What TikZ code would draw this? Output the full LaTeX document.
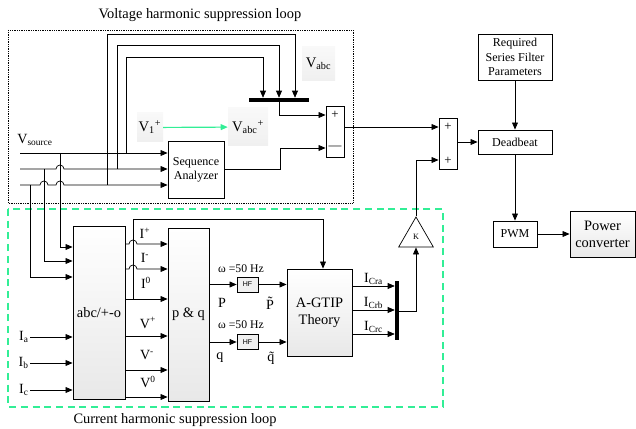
\documentclass[tikz,border=0pt]{standalone}
\usepackage{fontspec}
\setmainfont{Liberation Serif}
\newfontfamily\hffont{Liberation Sans}
\usepackage{tikz}
\usetikzlibrary{arrows.meta,positioning,calc,shapes.geometric}
\definecolor{loopgreen}{RGB}{50,238,150}
\def\pxu{0.03cm}
\tikzset{
  arr/.style={line width=0.6pt,-{Triangle[length=6pt,width=5pt]}},
  blk/.style={draw,line width=0.7pt,inner sep=0pt,align=center,font=\fontsize{10.3}{12.2}\selectfont},
  shblk/.style={blk,top color=white,bottom color=gray!18,font=\fontsize{12.3}{14.6}\selectfont},
  hfblk/.style={draw,line width=0.6pt,fill=gray!12,inner sep=0pt,minimum width=21*\pxu,minimum height=15*\pxu,font=\hffont\fontsize{6}{7}\selectfont},
  sumblk/.style={blk,minimum width=18*\pxu,minimum height=51*\pxu},
  tag/.style={top color=gray!5,bottom color=gray!12,inner sep=0pt,font=\fontsize{12.5}{14}\selectfont},
  lbl/.style={inner sep=1pt,font=\fontsize{12}{14}\selectfont},
  small/.style={inner sep=1pt,font=\fontsize{10}{12}\selectfont},
  sgn/.style={inner sep=0pt,font=\fontsize{11}{12}\selectfont},
  bus/.style={fill=black,inner sep=0pt},
}
\begin{document}
\begin{tikzpicture}[x=0.03cm,y=-0.03cm]
\useasboundingbox (0,0) rectangle (636,429);
% loop frames and titles
\draw[densely dotted,line width=0.5pt] (8,30) rectangle (353,203);
\draw[loopgreen,line width=1.1pt,dash pattern=on 6pt off 4pt] (8,209) rectangle (443,407);
\node[lbl,font=\fontsize{12.3}{14}\selectfont] (vtitle) at (200,15) {Voltage harmonic suppression loop};
\node[lbl,font=\fontsize{12.3}{14}\selectfont] (ctitle) at (175,420) {Current harmonic suppression loop};
% blocks
\node[blk,minimum width=56*\pxu,minimum height=57*\pxu] (seq) at (196,169.5) {Sequence\\Analyzer};
\node[shblk,minimum width=52*\pxu,minimum height=173*\pxu] (abc) at (99,312.5) {abc/+-o};
\node[shblk,minimum width=41*\pxu,minimum height=173*\pxu] (pq) at (188.5,314.5) {p \& q};
\node[hfblk] (hfp) at (247.5,284.5) {HF};
\node[hfblk] (hfq) at (247.5,342) {HF};
\node[shblk,minimum width=65*\pxu,minimum height=87*\pxu] (gtip) at (319.5,312.5) {A-GTIP\\Theory};
\node[bus,minimum width=4*\pxu,minimum height=59*\pxu] (bar) at (397,310.5) {};
\node[draw,regular polygon,regular polygon sides=3,minimum size=40*\pxu,inner sep=0pt,line width=0.6pt,font=\fontsize{7}{8}\selectfont] (kgain) at (416,237) {K};
\node[sumblk] (sa) at (335,131.5) {};
\node[sumblk] (sb) at (448,143.5) {};
\node[sgn] (sap) at (335,115) {+};
\node[sgn] (sam) at (335,148) {---};
\node[sgn] (sbp) at (448,127) {+};
\node[sgn] (sbq) at (448,161) {+};
\node[blk,minimum width=74*\pxu,minimum height=24*\pxu] (dead) at (515,142) {Deadbeat};
\node[blk,minimum width=74*\pxu,minimum height=46*\pxu] (req) at (515,57) {Required\\Series Filter\\Parameters};
\node[blk,minimum width=44*\pxu,minimum height=26*\pxu] (pwm) at (515,234) {PWM};
\node[shblk,minimum width=65*\pxu,minimum height=46*\pxu] (conv) at (602.5,234) {Power\\converter};
\node[bus,minimum width=60*\pxu,minimum height=4*\pxu] (bus) at (279,100) {};
% shaded tags
\node[tag,minimum width=33*\pxu,minimum height=34*\pxu] (vabc) at (318.5,64) {V\textsubscript{abc}};
\node[tag,minimum width=26*\pxu,minimum height=29*\pxu] (vone) at (150,127.5) {V\textsubscript{1}\textsuperscript{+}};
\node[tag,minimum width=40*\pxu,minimum height=38*\pxu] (vref) at (248,127) {V\textsubscript{abc}\textsuperscript{+}};
\draw[arr,loopgreen,line width=1pt] (vone) -- (vref);
% source lines
\coordinate (s1) at (20,153);
\coordinate (s2) at (20,169);
\coordinate (s3) at (20,185);
\node[lbl,anchor=west] (vsrc) at (16,140) {V\textsubscript{source}};
\draw[arr] (s1) -- (seq.west |- s1);
\draw[arr] (s2) -- (56,169) arc[start angle=180,end angle=360,radius=4] -- (seq.west |- s2);
\draw[arr] (s3) -- (40,185) arc[start angle=180,end angle=360,radius=4] -- (56,185) arc[start angle=180,end angle=360,radius=4] -- (seq.west |- s3);
% drops to abc/+-o
\coordinate (d1) at (60,153);
\coordinate (d2) at (44,169);
\coordinate (d3) at (30,185);
\draw[arr] (d1) |- (abc.west |- 0,247);
\draw[arr] (d2) |- (abc.west |- 0,261);
\draw[arr] (d3) |- (abc.west |- 0,277);
% feedback loops to the bus
\coordinate (t1) at (107,185);
\coordinate (t2) at (117,169);
\coordinate (t3) at (126,153);
\draw[arr] (t1) |- (295,34) -- (bus.north -| 295,0);
\draw[arr] (t2) |- (279,45) -- (bus.north -| 279,0);
\draw[arr] (t3) |- (263,57) -- (bus.north -| 263,0);
\draw[arr] (bus.south -| 279,0) |- (sa.west |- 0,115);
\draw[arr] (seq.east) -| (280,148) -- (sa.west |- 0,148);
\draw[arr] (sa.east |- 0,127) -- (sb.west |- 0,127);
\draw[arr] (sb.east |- dead.west) -- (dead.west);
\draw[arr] (req) -- (dead);
\draw[arr] (dead) -- (pwm);
\draw[arr] (pwm) -- (conv);
% current inputs
\coordinate (ia) at (30,337);
\coordinate (ib) at (30,363);
\coordinate (ic) at (30,390);
\node[lbl,anchor=east] (lia) at (ia) {I\textsubscript{a}};
\node[lbl,anchor=east] (lib) at (ib) {I\textsubscript{b}};
\node[lbl,anchor=east] (lic) at (ic) {I\textsubscript{c}};
\draw[arr] (ia) -- (abc.west |- ia);
\draw[arr] (ib) -- (abc.west |- ib);
\draw[arr] (ic) -- (abc.west |- ic);
% abc/+-o to p & q
\draw[arr] (abc.east |- 0,244) -- (129,244) arc[start angle=180,end angle=360,radius=4] -- (pq.west |- 0,244);
\draw[arr] (abc.east |- 0,269) -- (129,269) arc[start angle=180,end angle=360,radius=4] -- (pq.west |- 0,269);
\draw[arr] (abc.east |- 0,299) -- (pq.west |- 0,299);
\draw[arr] (abc.east |- 0,336) -- (pq.west |- 0,336);
\draw[arr] (abc.east |- 0,370) -- (pq.west |- 0,370);
\draw[arr] (abc.east |- 0,397) -- (pq.west |- 0,397);
\node[lbl] (lip) at (145,233) {I\textsuperscript{+}};
\node[lbl] (lim) at (145,258) {I\textsuperscript{-}};
\node[lbl] (liz) at (146,283) {I\textsuperscript{0}};
\node[lbl] (lvp) at (148,323) {V\textsuperscript{+}};
\node[lbl] (lvm) at (147,355) {V\textsuperscript{-}};
\node[lbl] (lvz) at (148,382) {V\textsuperscript{0}};
\coordinate (br) at (133,299);
\draw[arr] (br) |- (323,219) -- (gtip.north -| 323,0);
% power terms
\draw[arr] (pq.east |- hfp) -- (hfp);
\draw[arr] (hfp) -- (gtip.west |- hfp);
\draw[arr] (pq.east |- hfq) -- (hfq);
\draw[arr] (hfq) -- (gtip.west |- hfq);
\node[small] (wp) at (241,269) {ω =50 Hz};
\node[small] (wq) at (241,325) {ω =50 Hz};
\node[lbl] (lp) at (222,303) {P};
\node[lbl] (lpt) at (270,303) {\~{P}};
\node[lbl] (lq) at (220,358) {q};
\node[lbl] (lqt) at (271,358) {\~{q}};
% compensating currents
\draw[arr] (gtip.east |- 0,286) -- (bar.west |- 0,286) node[lbl,midway,above] (lca) {I\textsubscript{Cra}};
\draw[arr] (gtip.east |- 0,310) -- (bar.west |- 0,310) node[lbl,midway,above] (lcb) {I\textsubscript{Crb}};
\draw[arr] (gtip.east |- 0,334) -- (bar.west |- 0,334) node[lbl,midway,above] (lcc) {I\textsubscript{Crc}};
\draw[arr] (bar.east |- 0,311) -| (kgain.south);
\draw[arr] (kgain.north) |- (sb.west |- 0,160);
\end{tikzpicture}
\end{document}
